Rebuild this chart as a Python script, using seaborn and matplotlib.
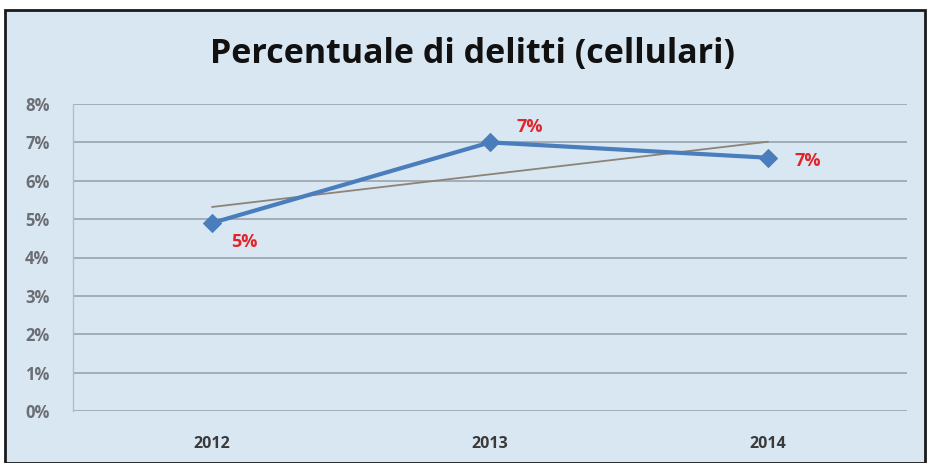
import numpy as np
import pandas as pd
import matplotlib
matplotlib.use("Agg")
import matplotlib.pyplot as plt
from matplotlib.patches import Rectangle
import seaborn as sns

# Share of crimes involving mobile phones, by year
years = ["2012", "2013", "2014"]
shares = [0.049, 0.070, 0.066]
labels = ["5%", "7%", "7%"]
y_ticks = [0.00, 0.01, 0.02, 0.03, 0.04, 0.05, 0.06, 0.07, 0.08]

sns.set_theme(style="white")
plt.rcParams["font.family"] = ["Open Sans", "DejaVu Sans"]

bg = "#d9e7f3"
df = pd.DataFrame({"pos": np.arange(len(years)), "share": shares})

fig = plt.figure(figsize=(9.32, 4.63), dpi=100)
fig.patch.set_facecolor("white")
fig.patches.append(Rectangle((5 / 932, 0), 920 / 932, 1 - 10 / 463,
                             transform=fig.transFigure, facecolor=bg,
                             edgecolor="#1a1a1a", linewidth=2, zorder=-10))

ax = fig.add_axes([73 / 932, 1 - 411 / 463, 834 / 932, 307 / 463])
ax.set_facecolor("none")

# linear trend line
coef = np.polyfit(df["pos"], df["share"], 1)
trend = pd.DataFrame({"pos": df["pos"], "share": np.polyval(coef, df["pos"])})
sns.lineplot(data=trend, x="pos", y="share", ax=ax, color="#8c8478",
             linewidth=1.3, zorder=2)

sns.lineplot(data=df, x="pos", y="share", ax=ax, color="#4a7dbb",
             linewidth=3, marker="D", markersize=9, markeredgecolor="#4a7dbb",
             zorder=3)

offsets = [(14, -14), (19, 11), (19, -2)]
for (x, y), lab, off in zip(zip(df["pos"], df["share"]), labels, offsets):
    ax.annotate(lab, (x, y), xytext=off, textcoords="offset points",
                ha="left", va="center", color="#e0262b", fontsize=13,
                fontweight="bold")

ax.set_xlim(-0.5, len(years) - 0.5)
ax.set_ylim(0, 0.08)
ax.set_yticks(y_ticks)
ax.set_yticklabels([f"{int(round(t * 100))}%" for t in y_ticks])
ax.set_xticks(df["pos"])
ax.set_xticklabels(years)
ax.yaxis.grid(True, color="#9aa3ab", linewidth=1.2)
ax.set_axisbelow(True)
for s in ["top", "right", "bottom"]:
    ax.spines[s].set_visible(False)
ax.spines["left"].set_color("#b5bec6")
ax.spines["left"].set_linewidth(1)
ax.tick_params(axis="y", length=0, pad=17, labelsize=12, labelcolor="#6b6e72")
ax.tick_params(axis="x", length=0, pad=18, labelsize=11.5, labelcolor="#3a3a3a")
for t in ax.get_xticklabels():
    t.set_fontweight("bold")
for t in ax.get_yticklabels():
    t.set_fontweight("bold")
ax.set_xlabel("")
ax.set_ylabel("")

fig.text(472 / 932, 1 - 54 / 463, "Percentuale di delitti (cellulari)",
         ha="center", va="center", fontsize=24.5, fontweight="bold",
         color="#111111")

fig.savefig("out.png", dpi=100)
